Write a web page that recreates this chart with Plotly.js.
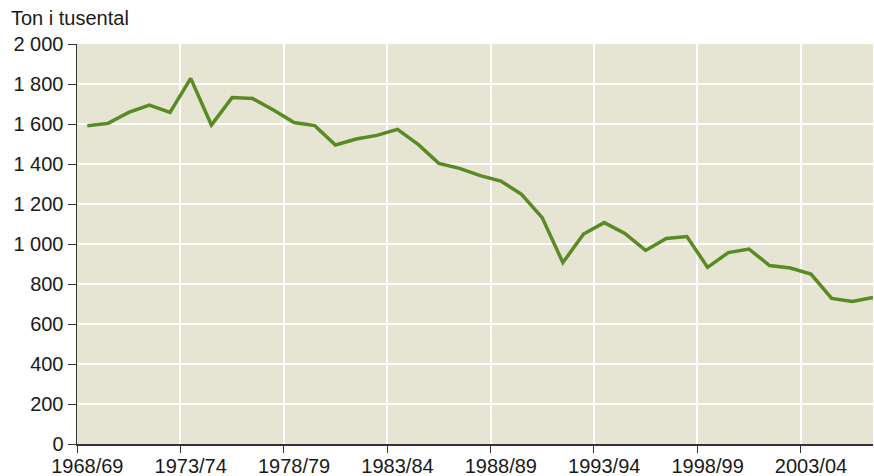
<!DOCTYPE html>
<html>
<head>
<meta charset="utf-8">
<script src="https://cdn.plot.ly/plotly-3.0.1.min.js"></script>
<style>html,body{margin:0;padding:0;background:#fff;}#chart{width:874px;height:476px;}</style>
</head>
<body>
<div id="chart"></div>
<script>
const seasons = ["1968/69","1969/70","1970/71","1971/72","1972/73","1973/74","1974/75","1975/76","1976/77","1977/78","1978/79","1979/80","1980/81","1981/82","1982/83","1983/84","1984/85","1985/86","1986/87","1987/88","1988/89","1989/90","1990/91","1991/92","1992/93","1993/94","1994/95","1995/96","1996/97","1997/98","1998/99","1999/00","2000/01","2001/02","2002/03","2003/04","2004/05","2005/06","2006/07"];
const tonnes = [1591,1603,1658,1695,1658,1828,1595,1732,1727,1670,1607,1592,1495,1525,1543,1573,1498,1403,1378,1342,1315,1248,1132,907,1050,1107,1053,968,1028,1037,883,957,975,892,880,850,728,713,733];
const yTickVals = [0,200,400,600,800,1000,1200,1400,1600,1800,2000];
const yAxisLabel = "Ton i tusental";

const font = {family: "Liberation Sans, Arial, sans-serif", size: 20, color: "#1a1a1a"};

Plotly.newPlot("chart", [{
  type: "scatter",
  mode: "lines",
  x: seasons,
  y: tonnes,
  line: {color: "#5a8a24", width: 3.5},
  hoverinfo: "skip"
}], {
  width: 874, height: 476,
  margin: {l: 77, r: 1, t: 44, b: 32, pad: 0},
  paper_bgcolor: "#ffffff",
  plot_bgcolor: "#e6e4d3",
  separators: ", ",
  font: font,
  showlegend: false,
  xaxis: {
    type: "category",
    range: [-0.5, seasons.length - 1],
    tickmode: "linear", tick0: 0, dtick: 5,
    tickson: "boundaries",
    tickangle: 0,
    ticklabelstandoff: 3,
    ticks: "outside", ticklen: 7, tickwidth: 1, tickcolor: "#333",
    showgrid: true, gridcolor: "#ffffff", gridwidth: 2,
    showline: true, linecolor: "#333", linewidth: 1.5,
    zeroline: false,
    tickfont: font,
    fixedrange: true
  },
  yaxis: {
    range: [0, 2000],
    tickmode: "array", tickvals: yTickVals,
    separatethousands: true,
    ticks: "outside", ticklen: 8, tickwidth: 1, tickcolor: "#333",
    showgrid: true, gridcolor: "#ffffff", gridwidth: 2,
    showline: true, linecolor: "#333", linewidth: 1.5,
    zeroline: false,
    tickfont: font,
    fixedrange: true
  },
  annotations: [{
    text: yAxisLabel,
    xref: "paper", yref: "paper",
    x: -0.0855, y: 1,
    xanchor: "left", yanchor: "bottom",
    yshift: 13,
    showarrow: false,
    font: font
  }]
}, {displayModeBar: false, staticPlot: true});
</script>
</body>
</html>
